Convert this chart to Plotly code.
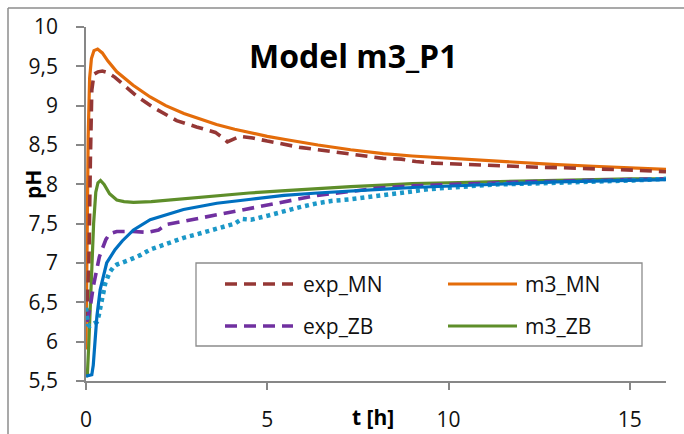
import plotly.graph_objects as go

# --- measured series -------------------------------------------------------
# exp_MN (measurement)
t_exp_mn = [0.02, 0.08, 0.12, 0.16, 0.22, 0.33, 0.45, 0.6, 0.8, 1.02, 1.4, 1.85,
            2.5, 3.05, 3.57, 3.75, 3.9, 4.25, 4.6, 5.0, 5.5, 5.9, 6.4, 6.85, 7.3,
            7.8, 8.2, 8.7, 9.1, 9.6, 10.5, 11.4, 12.3, 13.2, 14.2, 15.1, 16.0]
ph_exp_mn = [6.27, 7.0, 8.3, 9.2, 9.4, 9.43, 9.44, 9.42, 9.36, 9.27, 9.12, 8.98,
             8.81, 8.73, 8.66, 8.6, 8.54, 8.61, 8.59, 8.55, 8.5, 8.47, 8.44, 8.41, 8.38,
             8.35, 8.33, 8.32, 8.29, 8.27, 8.25, 8.24, 8.22, 8.21, 8.2, 8.18, 8.16]

# m3_MN (model)
t_m3_mn = [0, 0.03, 0.06, 0.1, 0.15, 0.22, 0.32, 0.45, 0.6, 0.85, 1.05, 1.3, 1.77,
           2.2, 2.7, 3.1, 3.6, 4.1, 4.55, 5.0, 5.5, 6.0, 6.4, 7.3, 8.2, 9.0, 10.0,
           11.0, 12.0, 13.0, 14.0, 15.0, 16.0]
ph_m3_mn = [5.9, 7.2, 8.6, 9.35, 9.6, 9.7, 9.72, 9.67, 9.57, 9.43, 9.35, 9.26, 9.11,
            9.0, 8.9, 8.84, 8.76, 8.7, 8.65, 8.61, 8.57, 8.53, 8.5, 8.44, 8.39, 8.36, 8.33,
            8.3, 8.27, 8.25, 8.23, 8.21, 8.19]

# exp_ZB (measurement)
t_exp_zb = [0.03, 0.12, 0.2, 0.3, 0.37, 0.45, 0.55, 0.65, 0.85, 1.3, 1.7, 2.0, 2.23,
            2.69, 3.61, 4.55, 5.46, 6.38, 7.3, 8.0, 9.0, 10.0, 11.0, 12.0, 13.0, 14.0,
            15.0, 16.0]
ph_exp_zb = [6.25, 6.45, 6.7, 6.95, 7.08, 7.18, 7.3, 7.37, 7.4, 7.4, 7.39, 7.42, 7.49,
             7.53, 7.61, 7.7, 7.78, 7.86, 7.91, 7.95, 7.98, 8.0, 8.02, 8.03, 8.04, 8.05,
             8.06, 8.07]

# m3_ZB (model)
t_m3_zb = [0, 0.04, 0.08, 0.12, 0.16, 0.21, 0.27, 0.33, 0.4, 0.5, 0.65, 0.85, 1.05,
           1.31, 1.8, 2.7, 3.6, 4.5, 5.5, 6.4, 7.3, 8.2, 9.0, 10.0, 11.0, 12.0, 13.0,
           14.0, 15.0, 16.0]
ph_m3_zb = [5.55, 5.6, 6.0, 6.5, 7.0, 7.5, 7.9, 8.02, 8.05, 8.0, 7.88, 7.8, 7.78,
            7.77, 7.78, 7.82, 7.86, 7.89, 7.92, 7.95, 7.97, 7.99, 8.01, 8.02, 8.03, 8.04,
            8.05, 8.06, 8.07, 8.07]

# second model curve (blue, solid)
t_model_b = [0, 0.16, 0.2, 0.25, 0.3, 0.39, 0.57, 0.8, 1.0, 1.31, 1.77, 2.69, 3.61,
             4.55, 5.46, 6.38, 7.3, 8.22, 9.0, 10.0, 11.0, 12.0, 13.0, 14.0, 15.0, 16.0]
ph_model_b = [5.56, 5.58, 5.7, 6.02, 6.32, 6.66, 7.0, 7.17, 7.28, 7.42, 7.55, 7.68, 7.76,
              7.81, 7.86, 7.89, 7.92, 7.94, 7.96, 7.98, 8.0, 8.02, 8.03, 8.04, 8.05, 8.06]

# second measurement (light blue, dotted)
t_exp_b = [0, 0.05, 0.1, 0.2, 0.3, 0.35, 0.44, 0.53, 0.65, 0.76, 0.85, 1.04, 1.2,
           1.5, 1.77, 2.2, 2.69, 3.1, 3.61, 4.1, 4.3, 4.55, 5.0, 5.46, 5.9, 6.38, 6.8,
           7.3, 7.8, 8.22, 8.66, 9.5, 10.4, 11.4, 12.3, 13.2, 14.2, 15.1, 16.0]
ph_exp_b = [6.43, 6.22, 6.2, 6.22, 6.25, 6.33, 6.53, 6.74, 6.88, 6.95, 6.98, 7.02, 7.04,
            7.1, 7.17, 7.24, 7.32, 7.37, 7.44, 7.5, 7.56, 7.55, 7.6, 7.66, 7.71, 7.76, 7.79,
            7.81, 7.84, 7.87, 7.9, 7.94, 7.97, 8.0, 8.01, 8.02, 8.04, 8.05, 8.07]

y_ticks = [5.5, 6, 6.5, 7, 7.5, 8, 8.5, 9, 9.5, 10]
y_tick_text = ["5,5", "6", "6,5", "7", "7,5", "8", "8,5", "9", "9,5", "10"]
x_ticks = [0, 5, 10, 15]

C_EXP_MN = "#953735"
C_M3_MN = "#E46C0A"
C_EXP_ZB = "#7030A0"
C_M3_ZB = "#5E8E2A"
C_MODEL_B = "#0070C0"
C_EXP_B = "#1C98C8"
DASH = "12px,7px"
FONT = "Open Sans"
AXIS_GRAY = "#878787"

W, H = 684, 434
L, R, T, B = 86, 18, 27, 53

fig = go.Figure()
fig.add_trace(go.Scatter(x=t_m3_mn, y=ph_m3_mn, mode="lines", name="m3_MN",
                         line=dict(color=C_M3_MN, width=3.2)))
fig.add_trace(go.Scatter(x=t_exp_mn, y=ph_exp_mn, mode="lines", name="exp_MN",
                         line=dict(color=C_EXP_MN, width=3.6, dash=DASH)))
fig.add_trace(go.Scatter(x=t_m3_zb, y=ph_m3_zb, mode="lines", name="m3_ZB",
                         line=dict(color=C_M3_ZB, width=3.2)))
fig.add_trace(go.Scatter(x=t_exp_zb, y=ph_exp_zb, mode="lines", name="exp_ZB",
                         line=dict(color=C_EXP_ZB, width=3.6, dash=DASH)))
fig.add_trace(go.Scatter(x=t_exp_b, y=ph_exp_b, mode="lines", showlegend=False,
                         line=dict(color=C_EXP_B, width=4.5, dash="4px,4px")))
fig.add_trace(go.Scatter(x=t_model_b, y=ph_model_b, mode="lines", showlegend=False,
                         line=dict(color=C_MODEL_B, width=3.2)))


def px_x(p):
    return (p - L) / (W - L - R)


def px_y(p):
    return (H - B - p) / (H - T - B)


shapes = [
    # outer chart frame (top and left edges)
    dict(type="line", xref="paper", yref="paper", x0=px_x(8), x1=px_x(700),
         y0=px_y(8), y1=px_y(8), line=dict(color="#8C8C8C", width=1.5)),
    dict(type="line", xref="paper", yref="paper", x0=px_x(8), x1=px_x(8),
         y0=px_y(8), y1=px_y(450), line=dict(color="#8C8C8C", width=1.5)),
    # legend box
    dict(type="rect", xref="paper", yref="paper", x0=px_x(196), x1=px_x(642),
         y0=px_y(346), y1=px_y(263), line=dict(color="#8C8C8C", width=1.3),
         fillcolor="white", layer="above"),
]

legend_items = [
    ("exp_MN", C_EXP_MN, DASH, 225, 293, 301, 284),
    ("m3_MN", C_M3_MN, "solid", 448, 517, 523, 284),
    ("exp_ZB", C_EXP_ZB, DASH, 225, 293, 301, 326),
    ("m3_ZB", C_M3_ZB, "solid", 448, 517, 523, 326),
]
annotations = []
for name, col, dash, xa, xb, xt, yy in legend_items:
    shapes.append(dict(type="line", xref="paper", yref="paper", x0=px_x(xa), x1=px_x(xb),
                       y0=px_y(yy), y1=px_y(yy), layer="above",
                       line=dict(color=col, width=3.6 if dash != "solid" else 3.2, dash=dash)))
    annotations.append(dict(text=name, xref="paper", yref="paper", x=px_x(xt), y=px_y(yy),
                            xanchor="left", yanchor="middle", showarrow=False,
                            font=dict(family=FONT, size=21, color="#111")))

annotations += [
    dict(text="<b>Model m3_P1</b>", xref="paper", yref="paper", x=px_x(353), y=px_y(55),
         xanchor="center", yanchor="middle", showarrow=False,
         font=dict(family=FONT, size=32, color="#000")),
    dict(text="<b>pH</b>", xref="paper", yref="paper", x=px_x(33), y=px_y(185),
         xanchor="center", yanchor="middle", showarrow=False, textangle=-90,
         font=dict(family=FONT, size=21, color="#000")),
    dict(text="<b>t [h]</b>", xref="paper", yref="paper", x=px_x(373), y=px_y(417),
         xanchor="center", yanchor="middle", showarrow=False,
         font=dict(family=FONT, size=21, color="#000")),
]

fig.update_layout(
    width=W, height=H,
    margin=dict(l=L, r=R, t=T, b=B, pad=0),
    paper_bgcolor="white", plot_bgcolor="white",
    showlegend=False,
    shapes=shapes, annotations=annotations,
    font=dict(family=FONT, size=21, color="#111"),
)
fig.update_xaxes(range=[0, 16], tickvals=x_ticks, showgrid=False, zeroline=False,
                 automargin=False,
                 showline=True, linecolor=AXIS_GRAY, linewidth=1.6,
                 ticks="outside", ticklen=7, tickwidth=1.5, tickcolor=AXIS_GRAY,
                 ticklabelstandoff=12, tickfont=dict(family=FONT, size=21, color="#111"))
fig.update_yaxes(range=[5.5, 10], tickvals=y_ticks, ticktext=y_tick_text, showgrid=False,
                 zeroline=False, automargin=False,
                 showline=True, linecolor=AXIS_GRAY, linewidth=1.6,
                 ticks="outside", ticklen=8, tickwidth=1.5, tickcolor=AXIS_GRAY,
                 ticklabelstandoff=14, tickfont=dict(family=FONT, size=21, color="#111"))

fig.write_html("out.html")
